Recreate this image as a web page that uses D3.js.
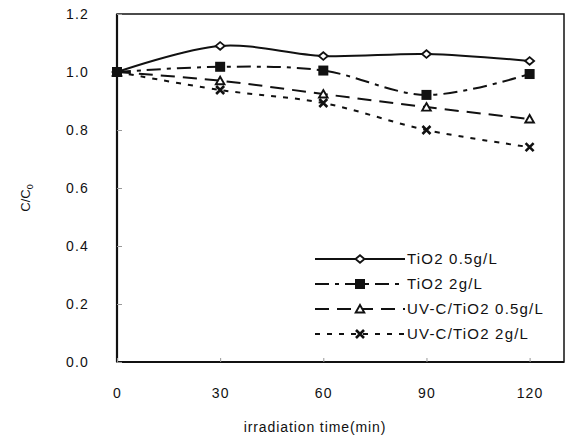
<!DOCTYPE html>
<html>
<head>
  <script src="https://cdn.jsdelivr.net/npm/d3@7"></script>
  <style>
    body { margin: 0; background: #fff; }
    text { font-family: "Liberation Sans", Arial, sans-serif; fill: #111; }
  </style>
</head>
<body>
<svg id="chart" width="565" height="441"></svg>
<script>
  // data
  var times = [0, 30, 60, 90, 120];
  var tio2_05 = [1.0, 1.09, 1.055, 1.062, 1.038];
  var tio2_2 = [1.0, 1.018, 1.005, 0.921, 0.993];
  var uvc_05 = [1.0, 0.97, 0.924, 0.879, 0.838];
  var uvc_2 = [1.0, 0.938, 0.893, 0.80, 0.741];
  var yTicks = [0, 0.2, 0.4, 0.6, 0.8, 1.0, 1.2];

  var series = [
    { name: 'TiO2 0.5g/L', values: tio2_05, dash: null, marker: 'diamond', z: 0 },
    { name: 'TiO2 2g/L', values: tio2_2, dash: '14,6,4,6', marker: 'square', z: 3 },
    { name: 'UV-C/TiO2 0.5g/L', values: uvc_05, dash: '14,8', marker: 'triangle', z: 2 },
    { name: 'UV-C/TiO2 2g/L', values: uvc_2, dash: '5,7', marker: 'cross', z: 1 }
  ];

  var svg = d3.select('#chart');
  var pLeft = 117, pRight = 564, pTop = 14, pBottom = 362;

  var x = d3.scaleLinear().domain([0, 130]).range([pLeft, pRight]);
  var y = d3.scaleLinear().domain([0, 1.2]).range([pBottom, pTop]);

  // frame
  svg.append('rect')
    .attr('x', pLeft).attr('y', pTop)
    .attr('width', pRight - pLeft).attr('height', pBottom - pTop)
    .attr('fill', 'none').attr('stroke', '#111').attr('stroke-width', 1.5);
  svg.append('line').attr('x1', pLeft).attr('x2', pLeft).attr('y1', pTop).attr('y2', pBottom)
    .attr('stroke', '#111').attr('stroke-width', 2.2);
  svg.append('line').attr('x1', pLeft).attr('x2', pRight).attr('y1', pBottom).attr('y2', pBottom)
    .attr('stroke', '#111').attr('stroke-width', 2.2);

  // y axis
  var yAxis = d3.axisLeft(y).tickValues(yTicks).tickFormat(d3.format('.1f'))
    .tickSizeInner(-5).tickSizeOuter(0).tickPadding(28);
  var gy = svg.append('g').attr('transform', 'translate(' + pLeft + ',0)').call(yAxis);
  gy.select('.domain').remove();
  gy.selectAll('line').attr('stroke', '#999');
  gy.selectAll('text').style('font-size', '14px').style('letter-spacing', '1.2px');

  // x axis
  var xAxis = d3.axisBottom(x).tickValues(times)
    .tickSizeInner(-4).tickSizeOuter(0).tickPadding(26);
  var gx = svg.append('g').attr('transform', 'translate(0,' + pBottom + ')').call(xAxis);
  gx.select('.domain').remove();
  gx.selectAll('line').attr('stroke', '#999');
  gx.selectAll('text').style('font-size', '14px').style('letter-spacing', '1.2px');

  // axis titles
  svg.append('text').attr('x', 315).attr('y', 432)
    .attr('text-anchor', 'middle').style('font-size', '14px').style('letter-spacing', '0.9px')
    .text('irradiation time(min)');
  var yl = svg.append('text').attr('transform', 'translate(30,198) rotate(-90)')
    .attr('text-anchor', 'middle').style('font-size', '13px');
  yl.append('tspan').text('C/C');
  yl.append('tspan').attr('dy', 3).style('font-size', '9px').text('0');

  var line = d3.line().curve(d3.curveCatmullRom.alpha(0.5))
    .x(function(d, i) { return x(times[i]); })
    .y(function(d) { return y(d); });

  function drawMarker(g, type, cx, cy) {
    if (type === 'diamond') {
      g.append('path').attr('d', 'M0,-3.8L4.5,0L0,3.8L-4.5,0Z')
        .attr('transform', 'translate(' + cx + ',' + cy + ')')
        .attr('fill', '#fff').attr('stroke', '#111').attr('stroke-width', 1.8);
    } else if (type === 'square') {
      g.append('rect').attr('x', cx - 5).attr('y', cy - 5).attr('width', 10).attr('height', 10)
        .attr('fill', '#111');
    } else if (type === 'triangle') {
      g.append('path').attr('d', 'M0,-4L4.3,3.5L-4.3,3.5Z')
        .attr('transform', 'translate(' + cx + ',' + cy + ')')
        .attr('fill', '#fff').attr('stroke', '#111').attr('stroke-width', 1.9);
    } else {
      g.append('path').attr('d', 'M-4,-4L4,4M-4,4L4,-4')
        .attr('transform', 'translate(' + cx + ',' + cy + ')')
        .attr('stroke', '#111').attr('stroke-width', 2.6);
    }
  }

  // lines first, then markers in stacking order
  series.forEach(function(s) {
    svg.append('path').datum(s.values).attr('d', line)
      .attr('fill', 'none').attr('stroke', '#111').attr('stroke-width', 2)
      .attr('stroke-dasharray', s.dash);
  });
  series.slice().sort(function(a, b) { return a.z - b.z; }).forEach(function(s) {
    var g = svg.append('g');
    s.values.forEach(function(v, i) {
      drawMarker(g, s.marker, x(times[i]), y(v));
    });
  });

  // legend
  var legY = [259, 284, 309, 334];
  series.forEach(function(s, i) {
    var g = svg.append('g');
    g.append('line').attr('x1', 315).attr('x2', 405).attr('y1', legY[i]).attr('y2', legY[i])
      .attr('stroke', '#111').attr('stroke-width', 2).attr('stroke-dasharray', s.dash);
    drawMarker(g, s.marker, 360, legY[i]);
    g.append('text').attr('x', 407).attr('y', legY[i] + 5)
      .style('font-size', '15px').style('letter-spacing', '1.2px').text(s.name);
  });
</script>
</body>
</html>
